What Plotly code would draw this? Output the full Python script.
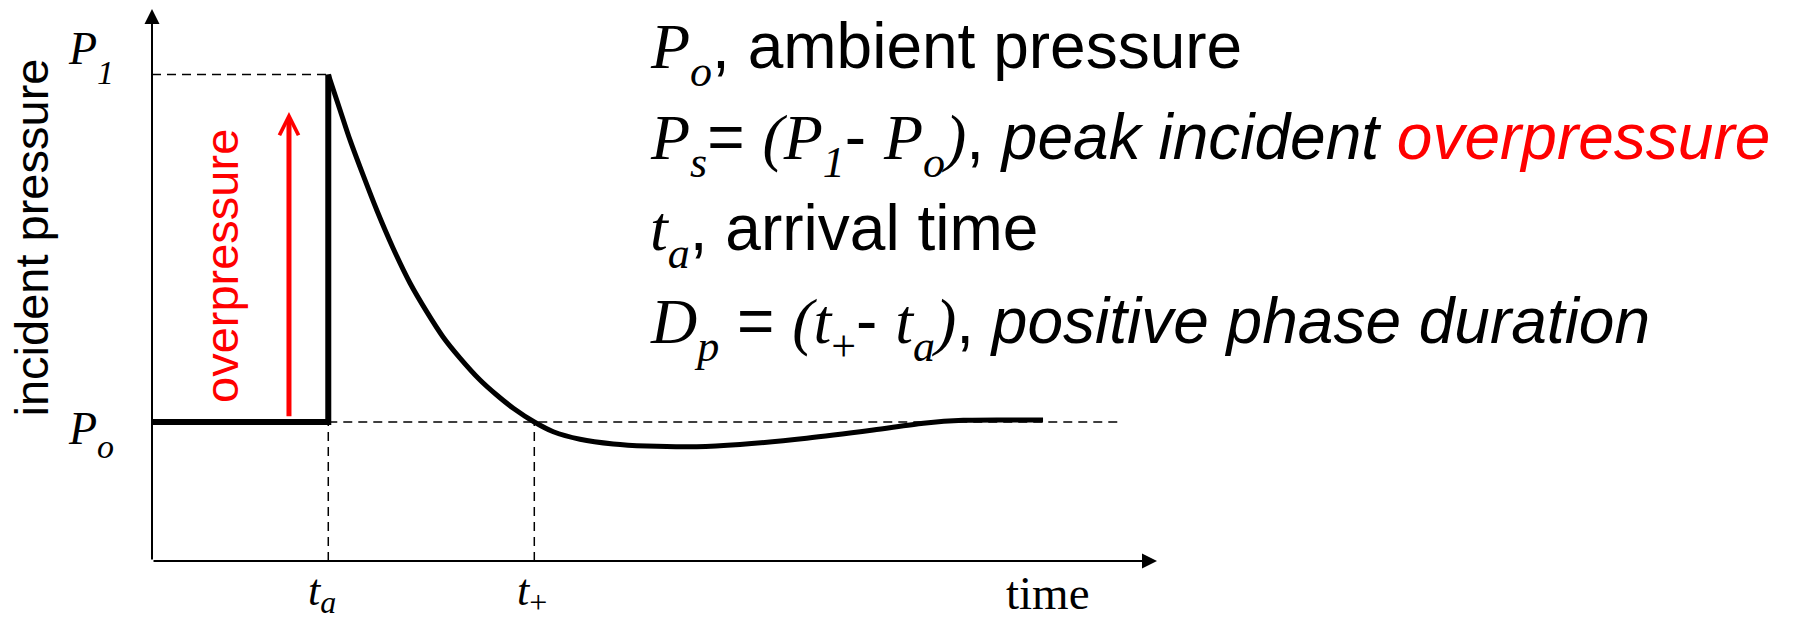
import plotly.graph_objects as go

# ---------------- data (arbitrary units) ----------------
P_o = 1.0            # ambient pressure level
P_1 = 3.5            # peak pressure level
t_a = 1.754          # arrival time
t_plus = 3.804       # end of positive phase
t_axis_end = 10.0    # end of time axis (arrow tip)
p_axis_end = 3.971   # end of pressure axis (arrow tip)
ref_line_end = 9.61  # end of dashed ambient line

# pressure before arrival (flat, then instantaneous jump)
pre_t = [0.0, t_a, t_a]
pre_p = [P_o, P_o, P_1]

# decay of the blast wave after arrival
decay_t = [1.754, 1.871, 1.970, 2.100, 2.236, 2.398, 2.567, 2.733, 2.896,
           3.065, 3.264, 3.430, 3.595, 3.804, 3.993, 4.259, 4.590, 4.922,
           5.420, 5.851, 6.514, 7.177, 7.675, 8.073, 8.703, 8.866]
decay_p = [3.500, 3.245, 3.029, 2.777, 2.525, 2.252, 2.000, 1.794, 1.612,
           1.460, 1.302, 1.194, 1.099, 1.000, 0.930, 0.876, 0.842, 0.827,
           0.822, 0.838, 0.883, 0.942, 0.991, 1.012, 1.014, 1.014]

# red overpressure arrow
arrow_t = 1.363
arrow_p = [1.03, 3.23]

# ---------------- layout geometry ----------------
PAGE = 0                      # body margin removed by post_script below
W, H = 1796, 621
PW, PH = 1005, 552            # plot area size in px
ML, MT = 152, 9
MR, MB = W - ML - PW, H - MT - PH


def pxp(px):
    """page x pixel -> paper x"""
    return (px - PAGE - ML) / PW


def pyp(py):
    """page y pixel -> paper y"""
    return (MT + PH - (py - PAGE)) / PH


SANS = "Liberation Sans, Arial, Helvetica, sans-serif"
SERIF = "Liberation Serif, Times New Roman, serif"


def it(s, size=None, shift=None, italic=True):
    style = "font-family:'Liberation Serif'"
    if italic:
        style += ";font-style:italic"
    if size:
        style += f";font-size:{size}px"
    if shift:
        style += f";baseline-shift:-{shift}px"
    return f'<span style="{style}">{s}</span>'


DASH = "9px,6px"

fig = go.Figure()

# dashed reference lines
fig.add_trace(go.Scatter(
    x=[0, t_a, None, t_a, ref_line_end, None, t_a, t_a, None, t_plus, t_plus],
    y=[P_1, P_1, None, P_o, P_o, None, 0, P_o, None, 0, P_o],
    mode="lines", line=dict(color="black", width=1.5, dash=DASH),
    hoverinfo="skip", connectgaps=False))

# ambient level and the shock jump
fig.add_trace(go.Scatter(x=pre_t, y=pre_p, mode="lines",
                         line=dict(color="black", width=6), hoverinfo="skip"))

# decay curve
fig.add_trace(go.Scatter(x=decay_t, y=decay_p, mode="lines",
                         line=dict(color="black", width=5, shape="spline",
                                   smoothing=0.8),
                         hoverinfo="skip"))

ann = []
# axes with arrow heads
ann.append(dict(x=t_axis_end, y=0, ax=0, ay=0, xref="x", yref="y",
                axref="x", ayref="y", text="", showarrow=True, arrowhead=2,
                arrowsize=1.5, arrowwidth=2, arrowcolor="black"))
ann.append(dict(x=0, y=p_axis_end, ax=0, ay=0, xref="x", yref="y",
                axref="x", ayref="y", text="", showarrow=True, arrowhead=2,
                arrowsize=1.5, arrowwidth=2, arrowcolor="black"))
# red overpressure arrow
ann.append(dict(x=arrow_t, y=arrow_p[1], ax=arrow_t, ay=arrow_p[0],
                xref="x", yref="y", axref="x", ayref="y", text="",
                showarrow=True, arrowhead=5, arrowsize=0.75, arrowwidth=5,
                arrowcolor="#ff0000"))


def label(text, px, py, xa, ya, size, family, color="black", angle=0,
          pad=1, bw=1):
    ann.append(dict(x=pxp(px), y=pyp(py), xref="paper", yref="paper",
                    text=text, showarrow=False, xanchor=xa, yanchor=ya,
                    textangle=angle, borderpad=pad, borderwidth=bw,
                    font=dict(family=family, size=size, color=color)))


# axis labels
label("incident pressure", 31, 237.5, "center", "middle", 47, SANS, angle=-90)
label("overpressure", 221, 266, "center", "middle", 47, SANS,
      color="#ff0000", angle=-90)
label("time", 1048, 567, "center", "top", 47, SERIF, pad=0, bw=0)

# level labels
label(it("P") + it("1", 34, 20), 66, 21, "left", "top", 46, SERIF)
label(it("P") + it("o", 34, 14), 66, 401, "left", "top", 46, SERIF)

# time labels
label(it("t") + it("a", 32, 8), 322, 566, "center", "top", 44, SERIF,
      pad=0, bw=0)
label(it("t") + it("+", 32, 8, italic=False), 531.5, 566, "center", "top",
      44, SERIF, pad=0, bw=0)

# definitions block
S, SH = 44, 18
lines = [
    it("P") + it("o", S, SH) + ", ambient pressure",
    it("P") + it("s", S, SH) + "= " + it("(") + it("P") + it("1", S, SH)
    + "- " + it("P") + it("o", S, SH) + it(")")
    + ", <i>peak incident </i><span style=\"color:#ff0000\"><i>overpressure</i></span>",
    it("t") + it("a", S, SH) + ", arrival time",
    it("D") + it("p", S, SH) + " = " + it("(") + it("t")
    + it("+", S, SH, italic=False) + "- " + it("t") + it("a", S, SH) + it(")")
    + ", <i>positive phase duration</i>",
]
tops = [8, 99, 190, 283]
for txt, top in zip(lines, tops):
    label(txt, 648, top, "left", "top", 64, SANS)

fig.update_layout(
    width=W, height=H,
    margin=dict(l=ML, r=MR, t=MT, b=MB, pad=0),
    paper_bgcolor="white", plot_bgcolor="white",
    showlegend=False, hovermode=False,
    xaxis=dict(range=[0, t_axis_end], visible=False, fixedrange=True),
    yaxis=dict(range=[0, p_axis_end], visible=False, fixedrange=True),
    annotations=ann,
)

fig.write_html("out.html", config={"displayModeBar": False},
               post_script="document.body.style.margin='0px';"
                           "document.body.style.overflow='hidden';")
